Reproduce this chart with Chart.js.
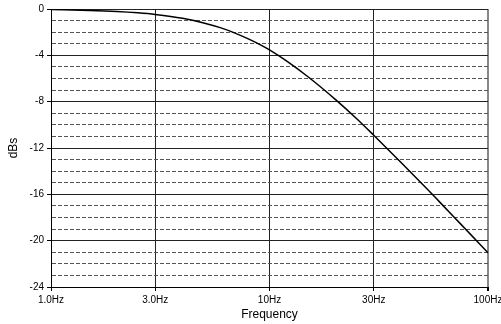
<!DOCTYPE html>
<html>
<head>
<meta charset="utf-8">
<script src="https://cdn.jsdelivr.net/npm/chart.js@4/dist/chart.umd.min.js"></script>
<style>
  html, body { margin: 0; padding: 0; background: #fff; }
  #wrap { width: 501px; height: 324px; }
</style>
</head>
<body>
<div id="wrap"><canvas id="respChart"></canvas></div>
<script>
// frequencies (Hz) and response (dB)
const freqs = [1, 1.5, 2, 2.5, 3, 4, 5, 6, 7, 8, 9, 10, 12, 15, 20, 25, 30, 40, 50, 60, 70, 80, 90, 100];
const dbs = [-0.05, -0.12, -0.21, -0.33, -0.47, -0.8, -1.2, -1.63, -2.1, -2.58, -3.05, -3.53, -4.5, -5.85, -7.8, -9.45, -10.9, -13.25, -15.1, -16.65, -17.97, -19.12, -20.13, -21.05];
const xTicks = [1, 3, 10, 30, 100];
const yMin = -24;
const yMax = 0;

const font = { family: 'Liberation Sans, Arial, sans-serif', size: 10 };

new Chart(document.getElementById('respChart'), {
    type: 'line',
    data: {
        datasets: [{
            label: 'Response',
            data: freqs.map((f, i) => ({ x: f, y: dbs[i] })),
            borderColor: '#000',
            borderWidth: 1.5,
            pointRadius: 0,
            cubicInterpolationMode: 'monotone',
            fill: false
        }]
    },
    options: {
        responsive: true,
        maintainAspectRatio: false,
        animation: false,
        layout: { padding: { top: 7, right: 0, left: 0, bottom: 0 } },
        plugins: { legend: { display: false }, tooltip: { enabled: false } },
        scales: {
            x: {
                type: 'logarithmic',
                min: 1,
                max: 100,
                afterBuildTicks: scale => { scale.ticks = xTicks.map(v => ({ value: v })); },
                afterFit: scale => { scale.height = 37; scale.paddingRight = 13; },
                ticks: {
                    autoSkip: false,
                    maxRotation: 0,
                    padding: 3,
                    color: '#000',
                    font: font,
                    callback: v => (v < 10 ? v.toFixed(1) : String(v)) + 'Hz'
                },
                grid: {
                    color: ctx => ctx.tick && ctx.tick.value === 100 ? '#888' : '#222',
                    lineWidth: ctx => ctx.tick && ctx.tick.value === 100 ? 2 : 1,
                    tickLength: 4,
                    tickColor: '#000'
                },
                border: { color: '#000', width: 1 },
                title: {
                    display: true,
                    text: 'Frequency',
                    color: '#000',
                    font: { family: font.family, size: 12 },
                    padding: { top: 0, bottom: 2 }
                }
            },
            y: {
                min: yMin,
                max: yMax,
                afterFit: scale => { scale.width = 51; },
                ticks: {
                    stepSize: 1,
                    autoSkip: false,
                    padding: 3,
                    color: '#000',
                    font: font,
                    callback: v => (v % 4 === 0 ? String(v) : '')
                },
                grid: {
                    color: ctx => ctx.tick && ctx.tick.value % 4 !== 0 ? '#555' : '#222',
                    lineWidth: 1,
                    tickLength: 4,
                    tickColor: ctx => ctx.tick && ctx.tick.value % 4 === 0 ? '#000' : 'rgba(0,0,0,0)'
                },
                border: {
                    color: '#000',
                    width: 1,
                    dash: ctx => ctx.tick && ctx.tick.value % 4 !== 0 ? [4, 2] : []
                },
                title: {
                    display: true,
                    text: 'dBs',
                    color: '#000',
                    font: { family: font.family, size: 12 },
                    padding: { top: 6, bottom: 0 }
                }
            }
        }
    }
});
</script>
</body>
</html>
